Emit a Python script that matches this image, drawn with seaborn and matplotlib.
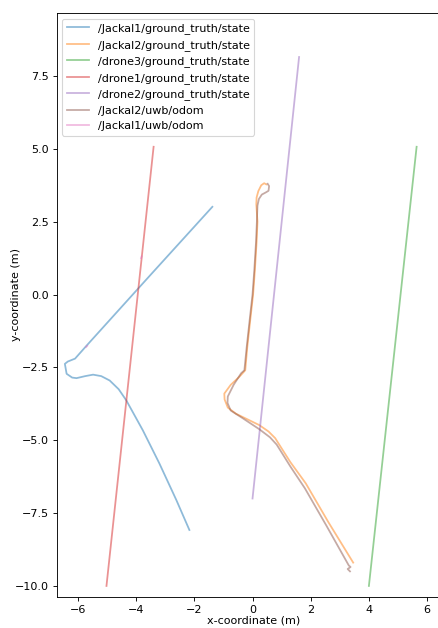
import numpy as np
import pandas as pd
import matplotlib
matplotlib.use("Agg")
import matplotlib.pyplot as plt
import seaborn as sns

# trajectory data (metres)
jackal1_gt_x = [-1.38, -3.5, -5.7, -6.1, -6.35, -6.45, -6.39, -6.2, -6.05, -5.75, -5.48,
                -5.2, -4.91, -4.6, -4.34, -3.77, -3.2, -2.62, -2.17]
jackal1_gt_y = [3.01, 0.68, -1.75, -2.2, -2.3, -2.38, -2.72, -2.85, -2.87, -2.8, -2.75,
                -2.8, -2.95, -3.25, -3.63, -4.66, -5.8, -7.05, -8.08]

jackal2_gt_x = [0.47, 0.40, 0.30, 0.20, 0.14, 0.13, 0.15, 0.17, 0.14, 0.08, 0.02, -0.08,
                -0.18, -0.25, -0.46, -0.75, -0.97, -0.96, -0.85, -0.57, -0.2, 0.23, 0.55,
                0.78, 0.95, 1.3, 1.83, 2.6, 3.46]
jackal2_gt_y = [3.78, 3.82, 3.75, 3.55, 3.33, 3.1, 2.8, 2.5, 1.8, 0.82, 0.0, -0.89,
                -1.8, -2.6, -2.83, -3.1, -3.4, -3.6, -3.88, -4.09, -4.27, -4.48, -4.7,
                -4.93, -5.2, -5.75, -6.48, -7.8, -9.2]

drone3_gt_x = [4.0, 5.64]
drone3_gt_y = [-10.0, 5.07]

drone1_gt_x = [-5.02, -3.4]
drone1_gt_y = [-10.0, 5.07]

drone2_gt_x = [0.0, 1.6]
drone2_gt_y = [-7.0, 8.15]

jackal2_uwb_x = [0.52, 0.57, 0.55, 0.45, 0.32, 0.22, 0.17, 0.16, 0.15, 0.12, 0.06, 0.0,
                 -0.1, -0.2, -0.28, -0.39, -0.65, -0.85, -0.86, -0.75, -0.33, 0.23, 0.6,
                 0.83, 1.0, 1.3, 1.8, 2.55, 3.31, 3.37, 3.27, 3.35]
jackal2_uwb_y = [3.8, 3.72, 3.56, 3.5, 3.43, 3.28, 3.05, 2.8, 2.5, 1.8, 0.82, 0.0,
                 -0.89, -1.8, -2.6, -2.7, -3.1, -3.5, -3.72, -3.98, -4.25, -4.62, -4.9,
                 -5.15, -5.42, -5.9, -6.65, -7.95, -9.3, -9.35, -9.42, -9.5]

# Jackal1 uwb odom only shows as two tiny fragments
jackal1_uwb_a_x = [-5.72, -5.68]
jackal1_uwb_a_y = [-1.80, -1.76]
jackal1_uwb_b_x = [-3.83, -3.81]
jackal1_uwb_b_y = [1.25, 1.31]

colors = sns.color_palette("tab10")

# rendered at 80 dpi so text and lines come out at the reference scale
fig, ax = plt.subplots(figsize=(438 / 80, 628 / 80), dpi=80)
fig.subplots_adjust(left=0.1295, right=0.999, top=0.9788, bottom=0.0489)

series = [
    ("/Jackal1/ground_truth/state", jackal1_gt_x, jackal1_gt_y, colors[0]),
    ("/Jackal2/ground_truth/state", jackal2_gt_x, jackal2_gt_y, colors[1]),
    ("/drone3/ground_truth/state", drone3_gt_x, drone3_gt_y, colors[2]),
    ("/drone1/ground_truth/state", drone1_gt_x, drone1_gt_y, colors[3]),
    ("/drone2/ground_truth/state", drone2_gt_x, drone2_gt_y, colors[4]),
    ("/Jackal2/uwb/odom", jackal2_uwb_x, jackal2_uwb_y, colors[5]),
    ("/Jackal1/uwb/odom", jackal1_uwb_a_x, jackal1_uwb_a_y, colors[6]),
]

for label, xs, ys, c in series:
    sns.lineplot(x=xs, y=ys, sort=False, estimator=None, color=c, alpha=0.5,
                 linewidth=1.6, label=label, ax=ax)

sns.lineplot(x=jackal1_uwb_b_x, y=jackal1_uwb_b_y, sort=False, estimator=None,
             color=colors[6], alpha=0.5, linewidth=1.6, label="_nolegend_", ax=ax)

ax.set_xlim(-6.73, 6.36)
ax.set_ylim(-10.39, 9.65)
ax.set_xlabel("x-coordinate (m)")
ax.set_ylabel("y-coordinate (m)")
ax.xaxis.set_label_coords(0.516, -0.031)
ax.yaxis.set_label_coords(-0.094, 0.519)
ax.legend(loc="upper left")

plt.savefig("out.png", dpi=80)
